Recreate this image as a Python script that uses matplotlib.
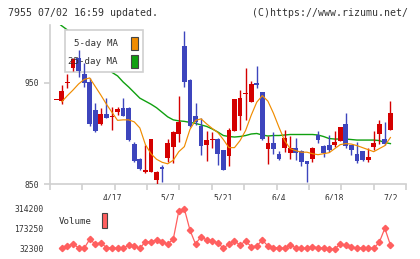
import numpy as np
import matplotlib
matplotlib.use('Agg')
import matplotlib.pyplot as plt
from matplotlib.patches import Rectangle

# daily prices (index 0 = first trading day shown)
opens = [933, 932, 949.5, 965, 975, 958.5, 951, 923, 909, 919,
         916, 921, 925, 925, 889.5, 875, 861.5, 862, 854, 866.5,
         876, 886.5, 899.5, 986.5, 953, 917.5, 907.5, 888.5, 894, 895,
         883.5, 877.5, 902.5, 917.5, 939.5, 931.5, 949.5, 941, 884.5, 890.5,
         880, 886, 880.5, 886, 883, 873, 875, 899, 888, 888.5,
         888.5, 892.5, 909.5, 888.5, 880, 882.5, 874, 887, 899.5, 895,
         903.5]
highs = [933, 948, 958.5, 975, 983, 970, 955, 930, 925, 935,
         926, 926.5, 935, 926, 891.5, 875.5, 888.5, 895, 862.5, 869,
         895, 902, 937.5, 1001.5, 953.5, 930, 915, 902, 901, 895.5,
         884, 905, 934.5, 943, 965, 952, 967, 941.5, 897.5, 901,
         882.5, 903, 897.5, 896, 883.5, 873, 886.5, 902.5, 888.5, 899,
         902.5, 906.5, 920.5, 888.5, 892, 883, 885.5, 902.5, 913.5, 911,
         932]
lows = [933, 929.5, 945, 962, 956, 946, 907, 901, 908, 915,
        903.5, 918, 917, 893, 872, 864, 861, 861.5, 850, 852,
        872, 871, 892, 946, 906.5, 908.5, 879, 873, 886, 868.5,
        864, 868, 902, 903.5, 913.5, 931, 945.5, 894, 870, 879.5,
        874, 881.5, 875, 874, 868, 852, 871.5, 891, 877, 881.5,
        887, 892.5, 886, 878.5, 870.5, 873, 872, 883.5, 889.5, 889,
        903]
closes = [933, 942, 951, 974, 962, 950, 909, 902.5, 919, 915.5,
          916.5, 924, 917.5, 893.5, 873, 865, 864, 894.5, 862, 864.5,
          890.5, 901, 911.5, 951, 907, 911, 888, 893.5, 894.5, 879.5,
          864, 903.5, 934, 935.5, 940, 948.5, 948, 894.5, 890.5, 884.5,
          875, 896, 886, 880.5, 872, 870, 886, 893.5, 881, 883.5,
          892, 906.5, 888, 883.5, 873, 874, 877, 891, 909.5, 889.5,
          920]

ma5 = [np.nan, 931.5, 937.5, 943, 949, 953.5, 955, 946.5, 938, 929,
       921, 913, 913.5, 913.5, 911.5, 905.5, 889, 880, 874.5, 871.5,
       870, 873.5, 882, 887, 904, 913, 914.5, 909.5, 905, 901,
       894, 886, 886, 893, 903, 918, 931, 937.5, 932, 920,
       906, 893, 885, 883, 881.5, 881.5, 880, 879, 880, 881,
       885, 889, 890, 889.5, 888, 886, 884, 882, 885, 888,
       896]
ma25 = [1011, 1006.5, 1002.5, 998, 993, 988, 983, 977, 971, 966,
        960.5, 957, 951, 946, 940.5, 935, 932, 929, 925.5, 921,
        916.5, 913.5, 912.5, 912, 911, 910, 908.5, 907, 904.5, 901.5,
        898, 897, 896.5, 897, 898, 899.5, 900, 898.5, 897.5, 898,
        898, 898.5, 899, 899, 899, 899, 899, 898.5, 897, 895,
        894.5, 894.5, 894.5, 894, 893.5, 893.5, 893.5, 893.5, 893, 891,
        890]

# volume from the second day on
volume = [37000, 53400, 67500, 41500, 37000, 100600, 67500, 76700, 41500, 41500,
          37000, 37000, 60500, 53400, 37000, 83700, 83700, 95700, 83700, 67500,
          100600, 300000, 314200, 166200, 67500, 119000, 95700, 88700, 76700, 37000,
          67500, 88700, 60500, 88700, 48500, 53400, 95700, 53400, 41500, 41500,
          37000, 60500, 41500, 37000, 37000, 48500, 41500, 37000, 32300, 32300,
          67500, 60500, 48500, 37000, 41500, 37000, 37000, 79500, 178000, 60500]

date_idx = [10, 20, 30, 40, 50, 60]
date_labels = ['4/17', '5/7', '5/21', '6/4', '6/18', '7/2']
price_ticks = [850, 950]
vol_ticks = [32300, 173250, 314200]

RED = '#d40000'
BLUE = '#3d45bd'
ORANGE = '#f08c00'
GREEN = '#10a010'
VOLC = '#ff5f5f'
AXC = '#d0d0d0'
TXT = '#333333'
MONO = 'DejaVu Sans Mono'

W, H = 420, 259


def box(l, t, r, b):
    return [l / W, 1 - b / H, (r - l) / W, (b - t) / H]


fig = plt.figure(figsize=(W / 100, H / 100), dpi=100)
ax = fig.add_axes(box(50, 25, 406, 184))
vax = fig.add_axes(box(50, 200, 406, 255))

o = np.array(opens)
c = np.array(closes)
x = np.arange(len(c))
up = c >= o
cols = np.where(up, RED, BLUE)

# candles
ax.vlines(x, lows, highs, colors=cols, lw=1.0, zorder=3)
body = np.maximum(np.abs(c - o), 0.9)
ax.bar(x, body, bottom=np.minimum(o, c), width=0.85, color=cols, zorder=3)

ax.plot(x, ma25, color=GREEN, lw=1.0, zorder=1)
ax.plot(x, ma5, color=ORANGE, lw=0.85, zorder=4)

xl = (-1.13, 62.8)
ax.set_xlim(*xl)
ax.set_ylim(850, 1007.4)

for s in ['top', 'right']:
    ax.spines[s].set_visible(False)
for s in ['left', 'bottom']:
    ax.spines[s].set_color(AXC)
    ax.spines[s].set_linewidth(1.2)

ax.set_xticks(date_idx)
ax.set_xticklabels(date_labels, family=MONO, fontsize=5.8, color=TXT)
ax.tick_params(axis='x', which='major', length=0, pad=7)
ax.set_xticks(np.linspace(xl[0], xl[1], 12), minor=True)
ax.tick_params(axis='x', which='minor', length=4.5, width=1.2, color=AXC)
ax.set_yticks(price_ticks)
ax.set_yticklabels([str(v) for v in price_ticks], family=MONO, fontsize=5.8, color=TXT)
ax.tick_params(axis='y', length=4, width=1.2, color=AXC, pad=3.5)

# legend box for moving averages
lb = Rectangle(((65 - 50) / 356, (184 - 72) / 159), 78 / 356, 42 / 159,
               transform=ax.transAxes, facecolor='white', edgecolor=AXC,
               lw=1.2, zorder=2)
ax.add_patch(lb)
for lab, col, ty in [('5-day MA', ORANGE, 43), ('25-day MA', GREEN, 61)]:
    fig.text(118 / W, 1 - ty / H, lab, family=MONO, fontsize=6.6, color=TXT,
             ha='right', va='center', zorder=2.5)
    fig.patches.append(Rectangle((131 / W, 1 - (ty + 6.5) / H), 7 / W, 13 / H,
                                 transform=fig.transFigure, facecolor=col,
                                 edgecolor='#444444', lw=0.8, zorder=2.5))

# volume panel
vx = np.arange(1, len(volume) + 1)
vax.plot(vx, volume, color=VOLC, lw=0.9, marker='D', ms=3.2, mec=VOLC, mfc=VOLC)
vax.set_xlim(*xl)
vax.set_ylim(-9985, 377600)
for s in vax.spines.values():
    s.set_visible(False)
vax.set_xticks([])
vax.set_yticks(vol_ticks)
vax.set_yticklabels([str(v) for v in vol_ticks], family=MONO, fontsize=5.8, color=TXT)
vax.tick_params(axis='y', length=0, pad=4.5)
fig.text(59 / W, 1 - 221.5 / H, 'Volume', family=MONO, fontsize=6.6, color=TXT,
         ha='left', va='center')
fig.patches.append(Rectangle((101.7 / W, 1 - 228.3 / H), 5.6 / W, 15 / H,
                             transform=fig.transFigure, facecolor=VOLC,
                             edgecolor='#444444', lw=0.8))

fig.text(8 / W, 1 - 13 / H, '7955 07/02 16:59 updated.', family=MONO,
         fontsize=7.1, color=TXT, ha='left', va='center')
fig.text(408 / W, 1 - 13 / H, '(C)https://www.rizumu.net/', family=MONO,
         fontsize=7.1, color=TXT, ha='right', va='center')

fig.savefig('out.png', dpi=100)
